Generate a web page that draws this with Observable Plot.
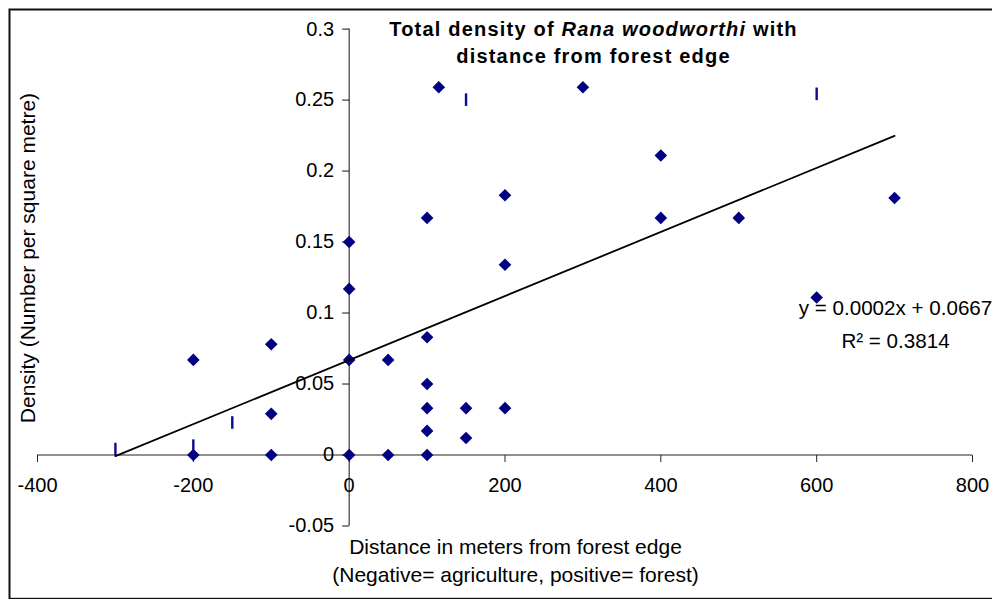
<!DOCTYPE html>
<html><head><meta charset="utf-8">
<script src="https://cdn.jsdelivr.net/npm/d3@7"></script>
<script src="https://cdn.jsdelivr.net/npm/@observablehq/plot@0.6"></script>
<style>html,body{margin:0;padding:0;background:#fff}#chart svg{display:block}</style>
</head><body><div id="chart"></div>
<script>
// ---- data ----
const distance = [-200,-200,-100,-100,-100,0,0,0,0,50,50,100,100,100,100,100,100,115,150,150,200,200,200,300,400,400,500,600,700];
const density  = [0,0.067,0.078,0.029,0,0.150,0.117,0.067,0,0.067,0,0.167,0.083,0.050,0.033,0.017,0,0.259,0.033,0.012,0.183,0.134,0.033,0.259,0.211,0.167,0.167,0.111,0.181];
const markDistance = [-300,-200,-150,150,600];
const markDensity  = [0.0042,0.0066,0.0229,0.2503,0.2544];
const trendDistance = [-300,700];
const trendDensity  = [-0.0008,0.2248];
const xTicks = [-400,-200,0,200,400,600,800];
const xTickLabels = ["-400","-200","0","200","400","600","800"];
const yTicks = [-0.05,0,0.05,0.1,0.15,0.2,0.25,0.3];
const yTickLabels = ["-0.05","0","0.05","0.1","0.15","0.2","0.25","0.3"];
const titleLines = ["Total density of Rana woodworthi with","distance from forest edge"];
const italicPart = "Rana woodworthi";
const yTitle = "Density (Number per square metre)";
const xTitleLines = ["Distance in meters from forest edge","(Negative= agriculture, positive= forest)"];
const equationLines = ["y = 0.0002x + 0.0667","R\u00B2 = 0.3814"];

const points = distance.map((d,i)=>({distance:d, density:density[i]}));
const marks2 = markDistance.map((d,i)=>({distance:d, density:markDensity[i]}));
const trend = trendDistance.map((d,i)=>({distance:d, density:trendDensity[i]}));

const diamond = {draw(ctx){const s=6.3;ctx.moveTo(0,-s);ctx.lineTo(s,0);ctx.lineTo(0,s);ctx.lineTo(-s,0);ctx.closePath();}};
const bar = {draw(ctx){ctx.rect(-1.2,-6.3,2.4,12.6);}};
const tickDown = {draw(ctx){ctx.moveTo(0,0);ctx.lineTo(0,7);}};
const tickLeft = {draw(ctx){ctx.moveTo(0,0);ctx.lineTo(-7,0);}};

const FONT = "'Liberation Sans', Arial, Helvetica, sans-serif";

const chart = Plot.plot({
  width: 992, height: 599,
  marginLeft: 37, marginRight: 20, marginTop: 28.6, marginBottom: 73.5,
  style: {fontFamily: FONT, fontSize: "20px", background: "white", color: "black"},
  x: {domain: [xTicks[0], xTicks[xTicks.length-1]], axis: null},
  y: {domain: [yTicks[0], yTicks[yTicks.length-1]], axis: null},
  marks: [
    Plot.frame({stroke: "#111", strokeWidth: 2, insetLeft: -28, insetTop: -19.6, insetRight: -40, insetBottom: -72.8}),
    // x axis at y = 0
    Plot.ruleY([0], {x1: () => xTicks[0], x2: () => xTicks[xTicks.length-1], stroke: "#222", strokeWidth: 1}),
    Plot.dot(xTicks, {x: d => d, y: () => 0, symbol: tickDown, stroke: "#222", fill: "none", strokeWidth: 1}),
    Plot.text(xTicks, {x: d => d, y: () => 0, text: (d,i) => xTickLabels[i], dy: 31, fontSize: 20, fill: "black"}),
    // y axis at x = 0
    Plot.ruleX([0], {y1: () => yTicks[0], y2: () => yTicks[yTicks.length-1], stroke: "#111", strokeWidth: 1}),
    Plot.dot(yTicks, {x: () => 0, y: d => d, symbol: tickLeft, stroke: "#111", fill: "none", strokeWidth: 1}),
    Plot.text(yTicks, {x: () => 0, y: d => d, text: (d,i) => yTickLabels[i], textAnchor: "end", dx: -15, fontSize: 20, fill: "black"}),
    // data
    Plot.dot(points, {x: "distance", y: "density", symbol: diamond, fill: "#000080", stroke: "none"}),
    Plot.dot(marks2, {x: "distance", y: "density", symbol: bar, fill: "#0b0b8c", stroke: "none"}),
    Plot.line(trend, {x: "distance", y: "density", stroke: "black", strokeWidth: 1.8}),
    // texts
    Plot.text([titleLines.join("\n")], {text: d => d, frameAnchor: "top-left", dx: 556, dy: -13, textAnchor: "middle", lineAnchor: "top", lineHeight: 1.38, fontWeight: "bold", fontSize: 20, fill: "black"}),
    Plot.text([yTitle], {text: d => d, frameAnchor: "left", dx: -9, dy: -19.5, rotate: -90, textAnchor: "middle", lineAnchor: "middle", fontSize: 21, fill: "black"}),
    Plot.text([xTitleLines.join("\n")], {text: d => d, frameAnchor: "bottom-left", dx: 478, dy: 7.5, textAnchor: "middle", lineAnchor: "top", lineHeight: 1.36, fontSize: 21, fill: "black"}),
    Plot.text([equationLines.join("\n")], {text: d => d, frameAnchor: "top-left", dx: 858, dy: 263, textAnchor: "middle", lineAnchor: "top", lineHeight: 1.6, fontSize: 20.6, fill: "black"})
  ]
});
document.getElementById("chart").appendChild(chart);

// italicise the species name inside the title and add Excel-like letter spacing
const NS = "http://www.w3.org/2000/svg";
chart.querySelectorAll("text, tspan").forEach(el => {
  if (el.childElementCount === 0 && el.textContent === titleLines[0]) {
    const parts = titleLines[0].split(italicPart);
    el.textContent = "";
    el.appendChild(document.createTextNode(parts[0]));
    const it = document.createElementNS(NS, "tspan");
    it.setAttribute("font-style", "italic");
    it.textContent = italicPart;
    el.appendChild(it);
    el.appendChild(document.createTextNode(parts[1]));
    const t = el.closest("text");
    if (t) t.setAttribute("letter-spacing", "1.2");
  }
});
</script>
</body></html>
